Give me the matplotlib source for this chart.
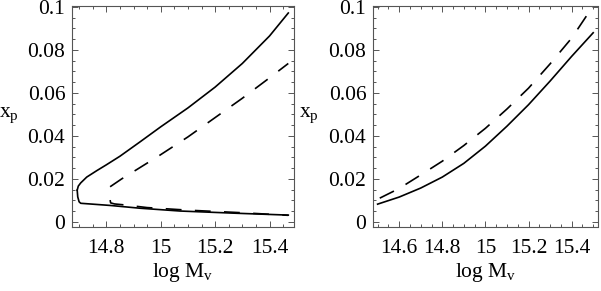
import matplotlib
matplotlib.use("Agg")
import matplotlib.pyplot as plt
from matplotlib.ticker import MultipleLocator

plt.rcParams['font.family'] = ['Liberation Serif', 'DejaVu Serif']
plt.rcParams['mathtext.fontset'] = 'custom'
plt.rcParams['mathtext.rm'] = 'Liberation Serif'
plt.rcParams['mathtext.it'] = 'Liberation Serif:italic'

# ---------------- data: left panel ----------------
left_solid_upper_x = [14.693, 14.697, 14.706, 14.728, 14.765, 14.8, 14.85, 14.924, 15.0,
                      15.1, 15.2, 15.3, 15.4, 15.469]
left_solid_upper_y = [0.0147, 0.0166, 0.0181, 0.0208, 0.0238, 0.0265, 0.0305, 0.0372, 0.0442,
                      0.0530, 0.0627, 0.0737, 0.0865, 0.0972]
left_solid_lower_x = [14.693, 14.695, 14.700, 14.706, 14.76, 14.814, 14.924, 15.071,
                      15.27, 15.469]
left_solid_lower_y = [0.0147, 0.0116, 0.0093, 0.0086, 0.0081, 0.0076, 0.0063, 0.0050,
                      0.0040, 0.0031]
left_dash_upper_x = [14.814, 14.857, 14.912, 14.997, 15.1, 15.2, 15.3, 15.4, 15.469]
left_dash_upper_y = [0.0163, 0.0200, 0.0243, 0.0310, 0.0395, 0.0485, 0.0575, 0.0670, 0.0737]
left_dash_lower_x = [14.814, 14.816, 14.83, 14.87, 14.95, 15.1, 15.3, 15.469]
left_dash_lower_y = [0.0101, 0.0088, 0.0083, 0.0078, 0.0066, 0.0054, 0.0042, 0.0030]

# ---------------- data: right panel ----------------
right_x_solid = [14.5, 14.6, 14.7, 14.8, 14.9, 15.0, 15.1, 15.2, 15.3, 15.4, 15.5]
right_y_solid = [0.0082, 0.0115, 0.0157, 0.0208, 0.0272, 0.0352, 0.0445, 0.0545,
                 0.0655, 0.0770, 0.0880]
right_x_dash = [14.51, 14.6, 14.7, 14.8, 14.9, 15.0, 15.1, 15.2, 15.3, 15.4, 15.47]
right_y_dash = [0.0110, 0.0155, 0.0218, 0.0282, 0.0355, 0.0435, 0.0525, 0.0622,
                0.0735, 0.0855, 0.0960]

left_xticks = [14.8, 15.0, 15.2, 15.4]
left_xticklabels = ['14.8', '15', '15.2', '15.4']
right_xticks = [14.6, 14.8, 15.0, 15.2, 15.4]
right_xticklabels = ['14.6', '14.8', '15', '15.2', '15.4']
yticks = [0, 0.02, 0.04, 0.06, 0.08, 0.1]
yticklabels = ['0', '0.02', '0.04', '0.06', '0.08', '0.1']

W, H = 601, 291
fig = plt.figure(figsize=(W / 100, H / 100), dpi=100)

def px_axes(l, t, r, b):
    return fig.add_axes([l / W, 1 - b / H, (r - l) / W, (b - t) / H])

axL = px_axes(72.3, 5.7, 294.0, 226.7)
axR = px_axes(373.3, 5.7, 597.5, 226.7)

lw = 1.2
dash = (9.5, 8.0)
frame_col = '#555555'
fs = 15.5

axL.plot(left_solid_upper_x, left_solid_upper_y, color='black', lw=lw)
axL.plot(left_solid_lower_x, left_solid_lower_y, color='black', lw=lw)
axL.plot(left_dash_upper_x, left_dash_upper_y, color='black', lw=lw, dashes=dash)
axL.plot(left_dash_lower_x, left_dash_lower_y, color='black', lw=lw, dashes=dash)

axR.plot(right_x_solid, right_y_solid, color='black', lw=lw)
axR.plot(right_x_dash, right_y_dash, color='black', lw=lw, dashes=dash)

axL.set_xlim(14.675, 15.49)
axR.set_xlim(14.48, 15.52)

for ax, xt, xtl in [(axL, left_xticks, left_xticklabels), (axR, right_xticks, right_xticklabels)]:
    ax.set_ylim(-0.0023, 0.1006)
    ax.set_xticks(xt)
    ax.set_xticklabels(xtl, fontsize=fs)
    ax.set_yticks(yticks)
    ax.set_yticklabels(yticklabels, fontsize=fs)
    ax.xaxis.set_minor_locator(MultipleLocator(0.05))
    ax.yaxis.set_minor_locator(MultipleLocator(0.005))
    ax.tick_params(which='both', direction='in', top=True, right=True,
                   color=frame_col, width=0.7)
    ax.tick_params(which='major', length=4)
    ax.tick_params(which='minor', length=2.2)
    ax.tick_params(axis='y', which='major', pad=5)
    ax.tick_params(axis='x', which='major', pad=9)
    for s in ax.spines.values():
        s.set_color(frame_col)
        s.set_linewidth(0.8)
    ax.set_ylabel(r'$\mathrm{x_p}$', fontsize=fs, rotation=0)
    ax.set_xlabel(r'$\mathrm{log\ M_v}$', fontsize=fs)
    ax.xaxis.set_label_coords(0.5, -0.155)

axL.yaxis.set_label_coords(-0.285, 0.46)
axR.yaxis.set_label_coords(-0.285, 0.46)

fig.savefig('out.png', dpi=100)
